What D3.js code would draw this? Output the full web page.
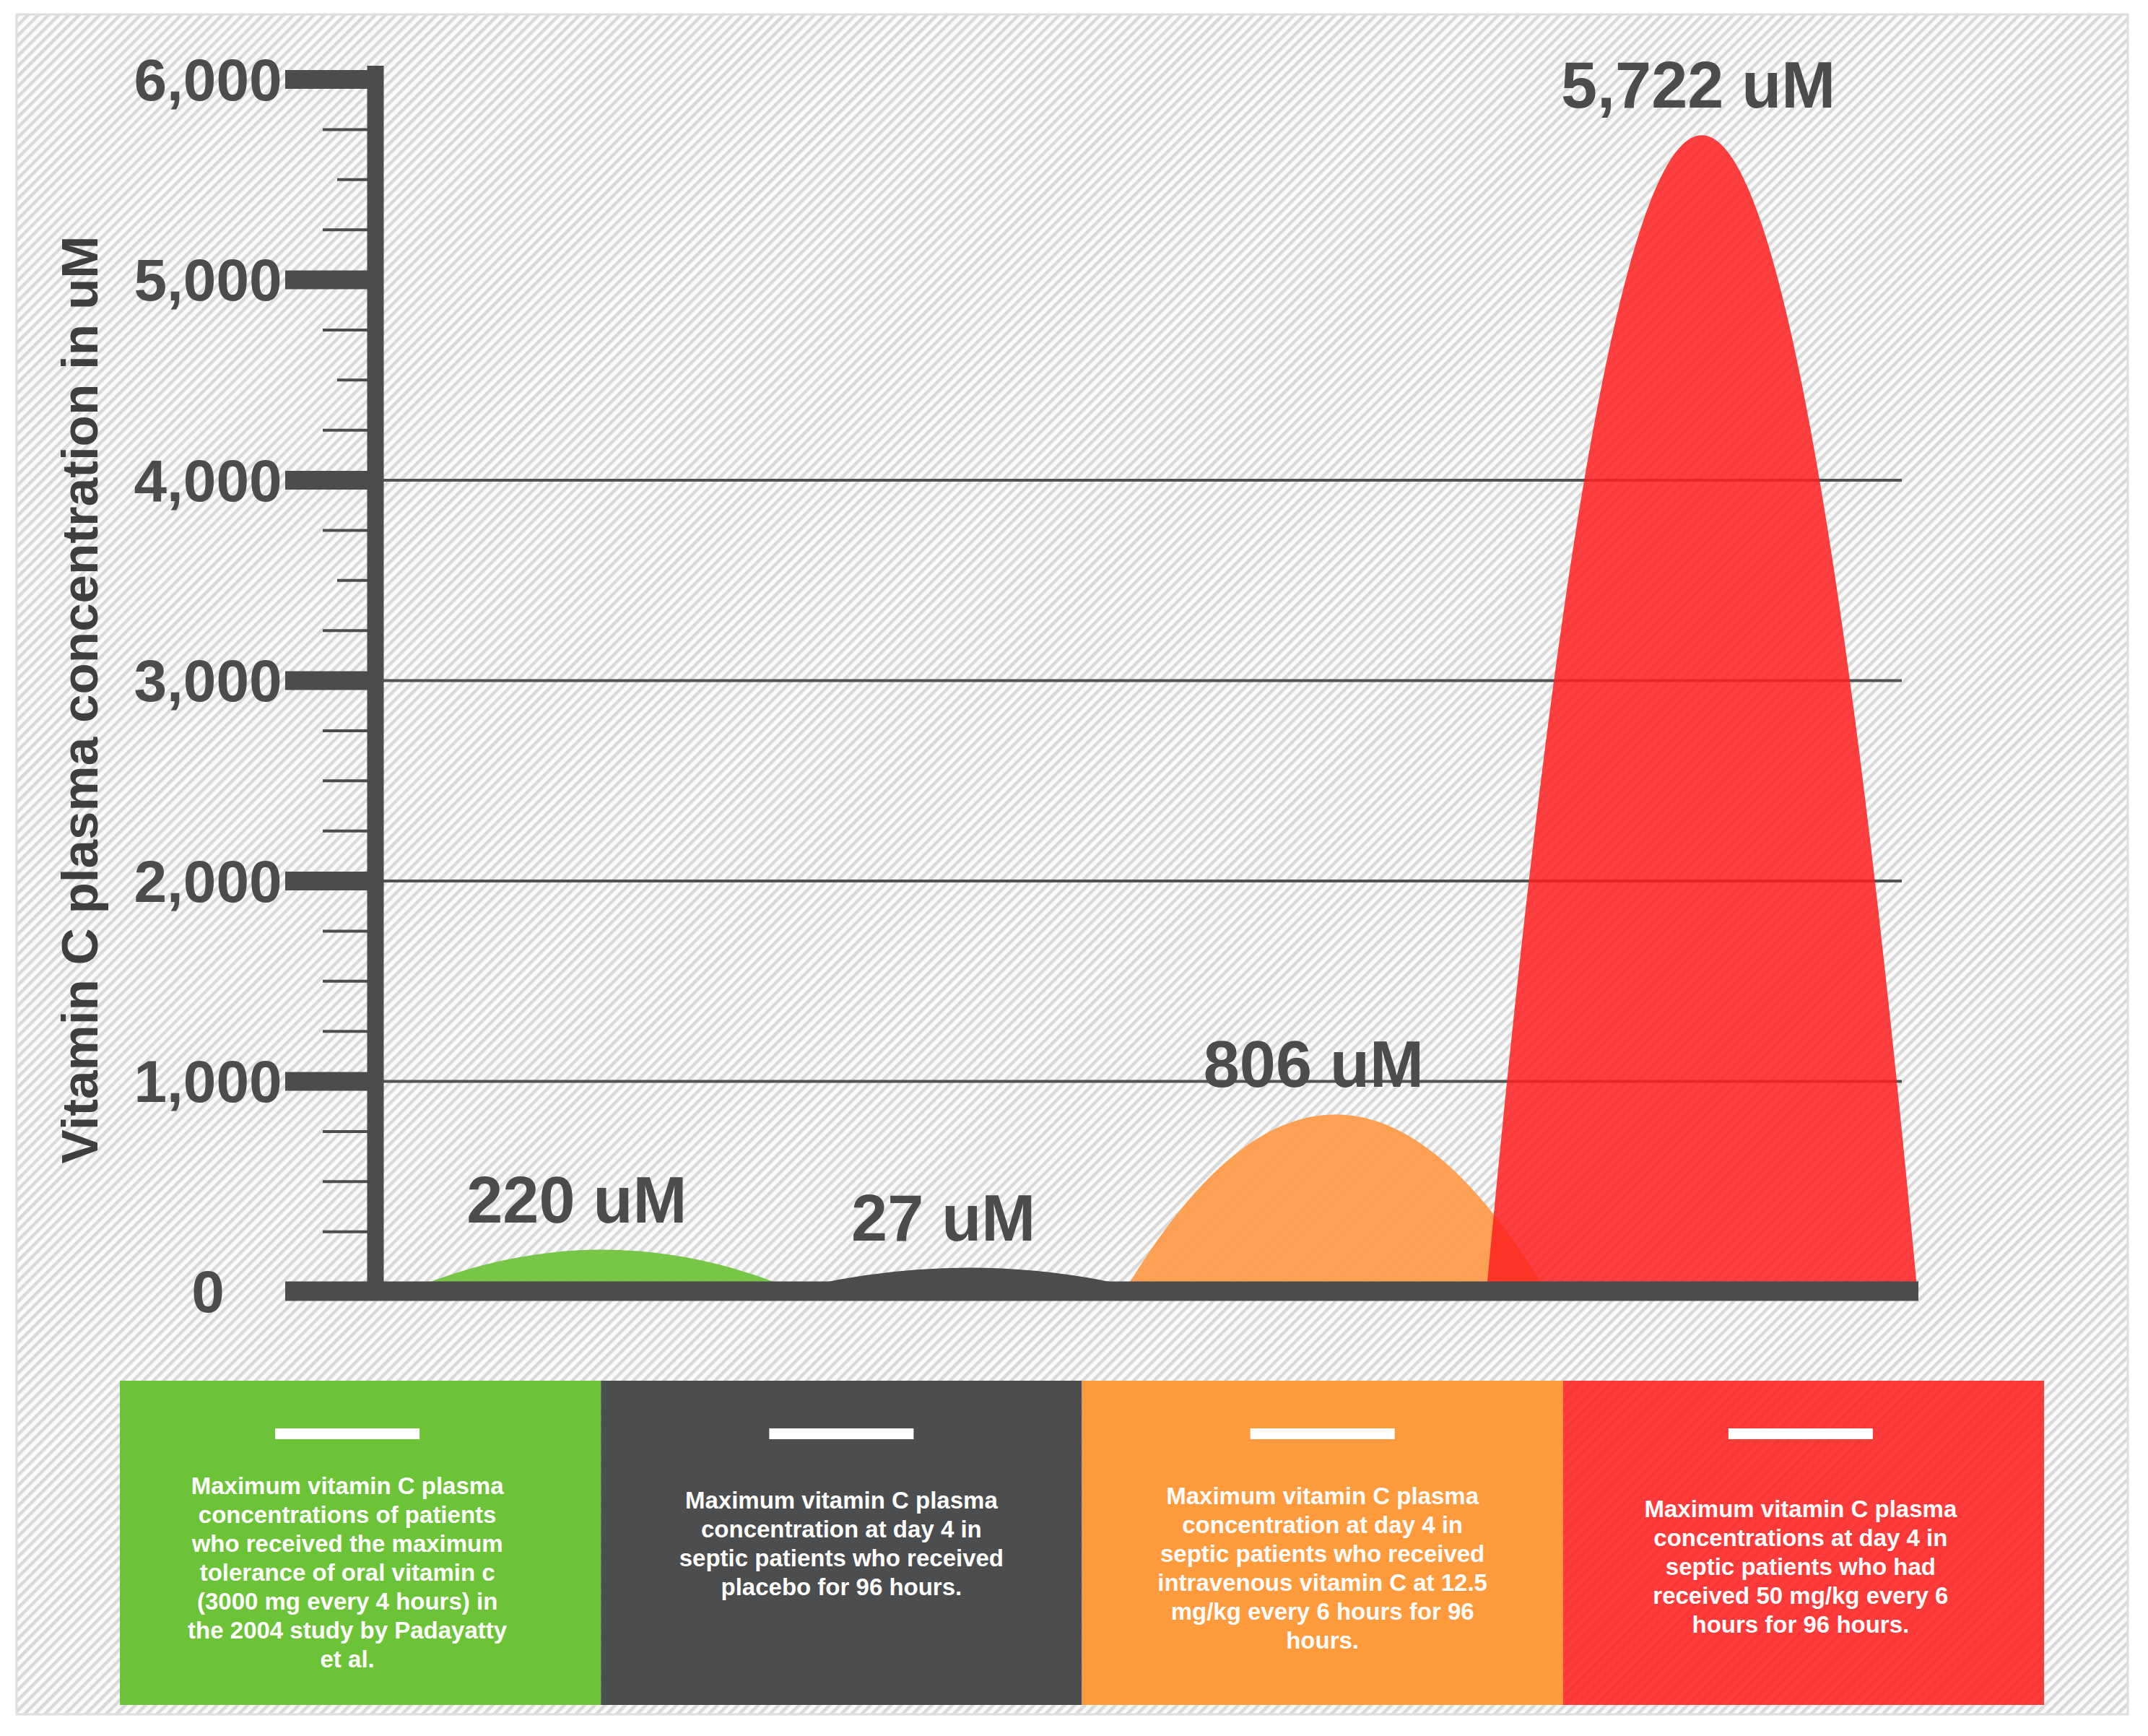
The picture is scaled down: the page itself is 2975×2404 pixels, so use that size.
<!doctype html>
<html lang="en">
<head>
<meta charset="UTF-8">
<title>Vitamin C plasma concentration</title>
<style>
  html, body { margin: 0; padding: 0; background: #fff; }
  svg { display: block; font-family: 'Liberation Sans', Arial, sans-serif; font-weight: bold; }
</style>
</head>
<body>
<script src="https://d3js.org/d3.v7.min.js"></script>
<script>
  // groups, left to right
  const groups = ['oral', 'placebo', 'iv12', 'iv50']
  // values printed above each mound
  const labelValues = [220, 27, 806, 5722]
  // mound tops as drawn in the picture (uM)
  const peakValues = [160, 70, 835, 5722]
  const yTicks = [0, 1000, 2000, 3000, 4000, 5000, 6000]
  const gridTicks = [1000, 2000, 3000, 4000]
  const descriptions = [
    ['Maximum vitamin C plasma', 'concentrations of patients', 'who received the maximum',
      'tolerance of oral vitamin c', '(3000 mg every 4 hours) in', 'the 2004 study by Padayatty', 'et al.'],
    ['Maximum vitamin C plasma', 'concentration at day 4 in', 'septic patients who received',
      'placebo for 96 hours.'],
    ['Maximum vitamin C plasma', 'concentration at day 4 in', 'septic patients who received',
      'intravenous vitamin C at 12.5', 'mg/kg every 6 hours for 96', 'hours.'],
    ['Maximum vitamin C plasma', 'concentrations at day 4 in', 'septic patients who had',
      'received 50 mg/kg every 6', 'hours for 96 hours.']
  ]
  const yTitle = 'Vitamin C plasma concentration in uM'

  const moundColors = ['#72c43e', '#4a4c4e', '#ff9c4c', '#ff1f1f']
  const moundOpacity = [0.95, 1, 0.95, 0.85]
  const boxColors = ['#6dc337', '#4b4d4f', '#ff9a3d', '#ff1f1f']
  const boxOpacity = [1, 1, 1, 0.87]
  const labelNudge = [-35, -35, -30, -5]
  const boxNudge = [-18, 0, 0, -4]
  const textMids = [2178, 2138, 2172, 2170]
  const dark = '#4a4c4e'

  const W = 2975, H = 2404
  const svg = d3.select('body').append('svg').attr('width', W).attr('height', H)

  const pattern = svg.append('defs').append('pattern')
    .attr('id', 'hatch')
    .attr('patternUnits', 'userSpaceOnUse')
    .attr('width', 10).attr('height', 10)
    .attr('patternTransform', 'rotate(45)')
  pattern.append('rect').attr('width', 10).attr('height', 10).attr('fill', '#fbfbfb')
  pattern.append('rect').attr('width', 4.5).attr('height', 10).attr('fill', '#d9d9d9')

  svg.append('rect')
    .attr('x', 23).attr('y', 20).attr('width', 2924).attr('height', 2354)
    .attr('fill', 'url(#hatch)')
    .attr('stroke', '#dedede').attr('stroke-width', 3)

  const y = d3.scaleLinear().domain([0, 6000]).range([1775, 110])
  const x = d3.scaleBand().domain(groups).range([580, 2611])
  const axisX = 520
  const plotRight = 2657
  const barY = y(0) + 13      // centre of the thick zero bar
  const baseY = y(0) + 26     // mounds run down to the bottom of the bar
  const half = x.step() * 0.59
  const tickY = d => d === 0 ? barY : y(d)

  // grid
  svg.append('g')
    .selectAll('line')
    .data(gridTicks)
    .join('line')
    .attr('x1', axisX).attr('x2', 2634)
    .attr('y1', d => y(d)).attr('y2', d => y(d))
    .attr('stroke', '#505254').attr('stroke-width', 4)

  // mounds (parabolic arches)
  const mound = (d, i) => {
    const cx = x(d) + x.bandwidth() / 2
    const top = y(peakValues[i])
    const p = d3.path()
    p.moveTo(cx - half, baseY)
    p.quadraticCurveTo(cx, 2 * top - baseY, cx + half, baseY)
    p.closePath()
    return p.toString()
  }

  svg.append('g')
    .selectAll('path')
    .data(groups)
    .join('path')
    .attr('d', mound)
    .attr('fill', (d, i) => moundColors[i])
    .attr('opacity', (d, i) => moundOpacity[i])

  // axis
  const minor = d3.range(250, 6000, 250).filter(v => v % 1000 !== 0)
  svg.append('g')
    .selectAll('line')
    .data(minor)
    .join('line')
    .attr('x1', d => (d % 1000 === 500 && d > 3000) ? 467 : 447)
    .attr('x2', axisX)
    .attr('y1', d => y(d)).attr('y2', d => y(d))
    .attr('stroke', dark).attr('stroke-width', 4)

  svg.append('g')
    .selectAll('line')
    .data(yTicks.filter(d => d > 0))
    .join('line')
    .attr('x1', 395).attr('x2', axisX)
    .attr('y1', d => y(d)).attr('y2', d => y(d))
    .attr('stroke', dark).attr('stroke-width', 26)

  svg.append('line')
    .attr('x1', axisX).attr('x2', axisX)
    .attr('y1', y(6000) - 19).attr('y2', baseY)
    .attr('stroke', dark).attr('stroke-width', 23)

  svg.append('line')
    .attr('x1', 395).attr('x2', plotRight)
    .attr('y1', barY).attr('y2', barY)
    .attr('stroke', dark).attr('stroke-width', 27)

  svg.append('g')
    .selectAll('text')
    .data(yTicks)
    .join('text')
    .attr('x', 288)
    .attr('y', tickY)
    .attr('dy', '0.35em')
    .attr('text-anchor', 'middle')
    .attr('font-size', 82)
    .attr('fill', dark)
    .text(d => d3.format(',')(d))

  svg.append('text')
    .attr('transform', 'translate(135,969) rotate(-90)')
    .attr('text-anchor', 'middle')
    .attr('font-size', 71)
    .attr('fill', '#3d3f41')
    .text(yTitle)

  // value labels
  svg.append('g')
    .selectAll('text')
    .data(groups)
    .join('text')
    .attr('x', (d, i) => x(d) + x.bandwidth() / 2 + labelNudge[i])
    .attr('y', (d, i) => y(peakValues[i]) - 38)
    .attr('text-anchor', 'middle')
    .attr('font-size', 90)
    .attr('fill', dark)
    .text((d, i) => d3.format(',')(labelValues[i]) + ' uM')

  // description boxes
  const bx = d3.scaleBand().domain(groups).range([166, 2831])
  const boxTop = 1912, boxH = 449, lineH = 40

  const boxes = svg.append('g')
    .selectAll('g')
    .data(groups)
    .join('g')

  boxes.append('rect')
    .attr('x', d => bx(d)).attr('y', boxTop)
    .attr('width', bx.bandwidth()).attr('height', boxH)
    .attr('fill', (d, i) => boxColors[i])
    .attr('opacity', (d, i) => boxOpacity[i])

  boxes.append('rect')
    .attr('x', (d, i) => bx(d) + bx.bandwidth() / 2 + boxNudge[i] - 100).attr('y', 1978)
    .attr('width', 200).attr('height', 15)
    .attr('fill', '#fff')

  boxes.append('text')
    .attr('text-anchor', 'middle')
    .attr('font-size', 33)
    .attr('fill', '#fff')
    .each(function (d, i) {
      const lines = descriptions[i]
      const first = textMids[i] - (lines.length - 1) * lineH / 2 + 11
      d3.select(this)
        .selectAll('tspan')
        .data(lines)
        .join('tspan')
        .attr('x', bx(d) + bx.bandwidth() / 2 + boxNudge[i])
        .attr('y', (l, j) => first + j * lineH)
        .text(l => l)
    })
</script>
</body>
</html>
